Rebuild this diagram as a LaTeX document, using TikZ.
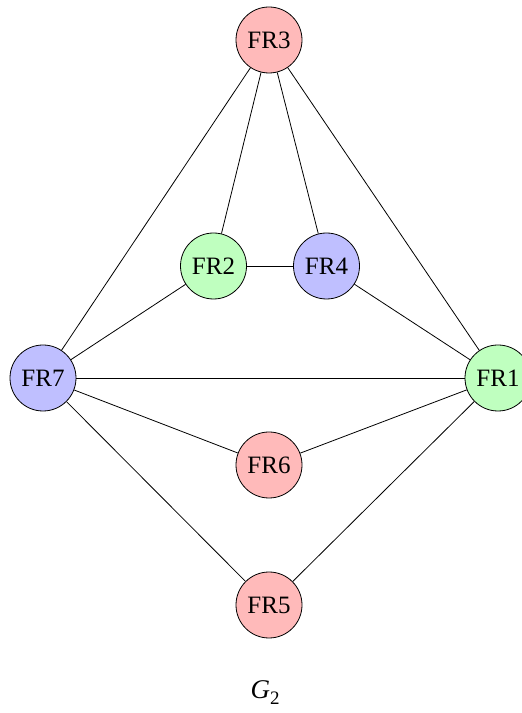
\documentclass[tikz,border=0pt]{standalone}
\usepackage{fontspec}
\setmainfont{Liberation Serif}
\begin{document}
\begin{tikzpicture}[x=1pt,y=1pt,
  vertex/.style={circle,draw=black,line width=0.8pt,minimum size=66pt,inner sep=0pt,
    font=\fontsize{25}{28}\selectfont},
  redv/.style={vertex,fill=red!27},
  greenv/.style={vertex,fill=green!25},
  bluev/.style={vertex,fill=blue!25},
  edge/.style={draw=black,line width=0.8pt}]
\useasboundingbox (0,0) rectangle (522,713);
\node[redv]   (fr3) at (269,673) {FR3};
\node[greenv] (fr2) at (213.5,447) {FR2};
\node[bluev]  (fr4) at (326.5,447) {FR4};
\node[bluev]  (fr7) at (43,335) {FR7};
\node[greenv] (fr1) at (498,335) {FR1};
\node[redv]   (fr6) at (269,248) {FR6};
\node[redv]   (fr5) at (269,108) {FR5};
\node[font=\fontsize{27}{30}\selectfont,anchor=base,inner sep=0pt] (label) at (265,14)
  {\textit{G}\raisebox{-0.22em}{\fontsize{19}{21}\selectfont 2}};
\draw[edge] (fr3) -- (fr7);
\draw[edge] (fr3) -- (fr2);
\draw[edge] (fr3) -- (fr4);
\draw[edge] (fr3) -- (fr1);
\draw[edge] (fr2) -- (fr4);
\draw[edge] (fr2) -- (fr7);
\draw[edge] (fr4) -- (fr1);
\draw[edge] (fr7) -- (fr1);
\draw[edge] (fr7) -- (fr6);
\draw[edge] (fr6) -- (fr1);
\draw[edge] (fr7) -- (fr5);
\draw[edge] (fr5) -- (fr1);
\end{tikzpicture}
\end{document}
